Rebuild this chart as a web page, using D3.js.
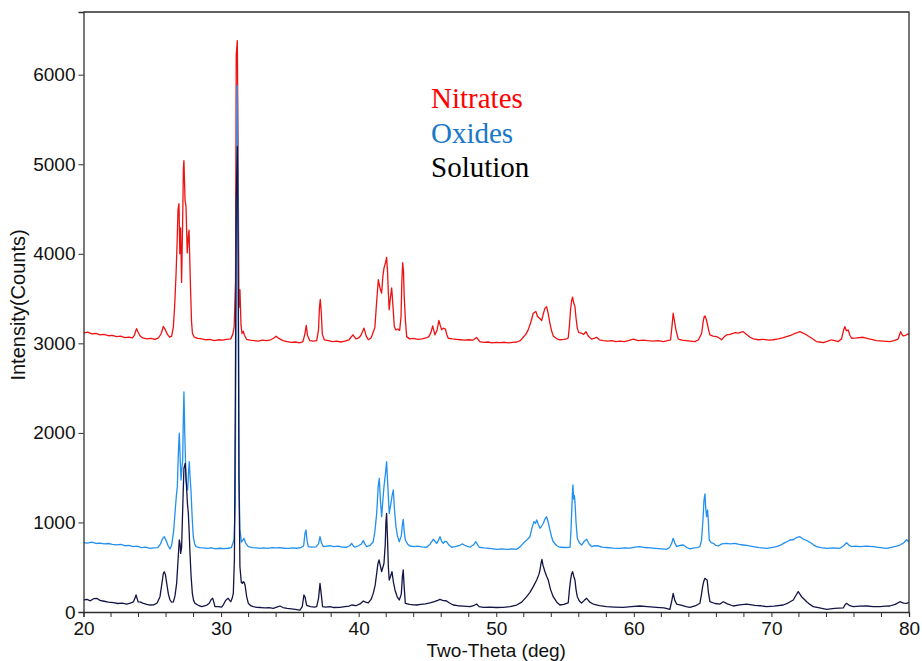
<!DOCTYPE html>
<html>
<head>
<meta charset="utf-8">
<script src="https://cdn.jsdelivr.net/npm/d3@7"></script>
<style>
  html, body { margin: 0; padding: 0; background: #fff; }
  svg { display: block; }
</style>
</head>
<body>
<svg id="chart" width="922" height="661"></svg>
<script>
// XRD patterns: [2θ (deg), intensity (counts)]
const nitrates = [[20.0,3115],[20.3,3125],[20.6,3105],[20.9,3110],[21.2,3095],[21.5,3100],[21.8,3085],[22.1,3090],[22.4,3075],[22.7,3080],[23.0,3065],[23.3,3070],[23.55,3060],[23.7,3090],[23.85,3165],[23.95,3130],[24.1,3085],[24.3,3060],[24.6,3050],[24.9,3055],[25.2,3045],[25.45,3060],[25.65,3110],[25.8,3190],[25.95,3150],[26.1,3100],[26.26,3070],[26.41,3080],[26.53,3185],[26.62,3400],[26.72,3745],[26.8,4100],[26.87,4490],[26.94,4560],[27.0,4000],[27.06,4290],[27.13,3680],[27.2,4300],[27.26,4950],[27.3,5040],[27.38,4600],[27.45,4530],[27.54,4010],[27.62,4200],[27.67,4265],[27.73,3900],[27.79,3560],[27.85,3250],[27.92,3110],[28.05,3070],[28.3,3055],[28.6,3050],[28.9,3040],[29.2,3045],[29.5,3030],[29.8,3040],[30.1,3035],[30.4,3045],[30.7,3050],[30.85,3100],[30.95,3180],[31.05,3700],[31.1,6220],[31.18,6380],[31.24,5000],[31.3,3400],[31.37,3600],[31.45,3200],[31.52,3110],[31.61,3135],[31.7,3090],[31.85,3045],[32.1,3035],[32.4,3030],[32.7,3025],[33.0,3035],[33.3,3030],[33.6,3040],[33.85,3060],[34.0,3080],[34.2,3055],[34.5,3030],[34.8,3020],[35.1,3010],[35.4,3015],[35.7,3005],[35.95,3020],[36.1,3110],[36.19,3200],[36.28,3090],[36.45,3030],[36.7,3025],[36.95,3030],[37.08,3150],[37.15,3400],[37.21,3490],[37.28,3350],[37.36,3100],[37.5,3040],[37.8,3030],[38.1,3020],[38.4,3025],[38.7,3015],[39.0,3025],[39.3,3040],[39.58,3095],[39.8,3050],[40.0,3060],[40.17,3090],[40.39,3170],[40.55,3080],[40.7,3040],[40.9,3060],[41.05,3120],[41.18,3180],[41.3,3450],[41.43,3710],[41.55,3620],[41.67,3560],[41.76,3750],[41.84,3840],[41.95,3900],[42.03,3960],[42.1,3800],[42.16,3550],[42.22,3375],[42.3,3500],[42.4,3620],[42.5,3400],[42.59,3187],[42.7,3150],[42.85,3160],[42.98,3145],[43.08,3300],[43.14,3700],[43.2,3900],[43.26,3800],[43.31,3520],[43.4,3250],[43.49,3075],[43.7,3050],[44.0,3055],[44.3,3045],[44.6,3050],[44.9,3060],[45.1,3075],[45.25,3120],[45.38,3195],[45.47,3140],[45.55,3095],[45.7,3150],[45.83,3255],[45.93,3200],[46.03,3150],[46.15,3170],[46.3,3160],[46.4,3100],[46.51,3057],[46.8,3050],[47.1,3045],[47.4,3040],[47.7,3035],[48.0,3040],[48.3,3035],[48.57,3065],[48.8,3020],[49.1,3010],[49.4,3015],[49.7,3005],[50.0,3010],[50.3,3008],[50.6,3012],[50.9,3005],[51.2,3010],[51.5,3015],[51.75,3030],[51.96,3068],[52.15,3100],[52.32,3150],[52.5,3230],[52.69,3336],[52.88,3355],[53.0,3300],[53.15,3280],[53.3,3255],[53.42,3330],[53.54,3390],[53.66,3410],[53.78,3330],[53.9,3225],[54.02,3140],[54.14,3083],[54.4,3050],[54.63,3040],[54.9,3045],[55.1,3050],[55.23,3060],[55.32,3200],[55.4,3375],[55.48,3480],[55.55,3515],[55.63,3450],[55.72,3410],[55.8,3280],[55.89,3170],[56.0,3120],[56.2,3113],[56.35,3100],[56.52,3130],[56.7,3080],[56.93,3047],[57.1,3055],[57.3,3068],[57.5,3040],[57.78,3030],[58.1,3025],[58.4,3030],[58.7,3020],[59.0,3025],[59.3,3020],[59.6,3030],[59.96,3047],[60.32,3030],[60.7,3035],[61.0,3030],[61.4,3025],[61.8,3030],[62.14,3020],[62.45,3030],[62.67,3040],[62.78,3200],[62.86,3336],[62.95,3250],[63.06,3150],[63.23,3047],[63.5,3035],[63.8,3030],[64.1,3025],[64.44,3020],[64.7,3040],[64.93,3113],[65.05,3250],[65.12,3300],[65.17,3306],[65.26,3270],[65.36,3205],[65.45,3140],[65.53,3094],[65.75,3080],[66.02,3075],[66.2,3060],[66.38,3040],[66.55,3070],[66.74,3094],[67.0,3100],[67.2,3110],[67.35,3120],[67.6,3115],[67.8,3125],[67.95,3130],[68.2,3100],[68.44,3068],[68.7,3050],[69.04,3040],[69.4,3045],[69.8,3035],[70.13,3040],[70.5,3050],[70.8,3060],[71.1,3075],[71.4,3090],[71.7,3110],[71.9,3120],[72.07,3130],[72.3,3115],[72.56,3094],[72.9,3060],[73.28,3020],[73.5,3015],[73.77,3008],[74.1,3025],[74.37,3040],[74.6,3030],[74.85,3020],[75.1,3050],[75.25,3150],[75.34,3187],[75.45,3140],[75.58,3150],[75.7,3090],[75.83,3057],[76.2,3060],[76.67,3068],[77.1,3050],[77.64,3030],[78.1,3025],[78.61,3020],[78.9,3030],[79.21,3047],[79.3,3090],[79.39,3130],[79.5,3095],[79.58,3083],[79.75,3090],[79.94,3105],[80.0,3095]];

const oxides = [[20.0,775],[20.3,770],[20.6,780],[20.9,765],[21.2,770],[21.5,760],[21.8,765],[22.1,755],[22.4,750],[22.7,755],[23.0,740],[23.3,745],[23.62,730],[23.9,735],[24.2,720],[24.5,725],[24.83,711],[25.1,715],[25.4,720],[25.6,760],[25.75,820],[25.87,840],[26.0,800],[26.15,740],[26.29,704],[26.41,748],[26.55,900],[26.65,1102],[26.75,1300],[26.82,1400],[26.9,1800],[26.96,1996],[27.03,1700],[27.09,1474],[27.15,1600],[27.21,1698],[27.26,2200],[27.3,2457],[27.36,2000],[27.45,1474],[27.52,1400],[27.57,1363],[27.63,1550],[27.69,1680],[27.75,1500],[27.81,1363],[27.9,1050],[27.98,841],[28.08,760],[28.18,730],[28.4,720],[28.7,715],[29.0,710],[29.3,715],[29.6,705],[29.9,712],[30.2,708],[30.5,712],[30.75,720],[30.94,804],[31.03,1200],[31.1,4000],[31.18,5880],[31.24,4500],[31.3,1500],[31.37,920],[31.48,780],[31.58,800],[31.66,823],[31.78,770],[31.98,730],[32.3,720],[32.6,715],[32.83,711],[33.1,715],[33.4,710],[33.7,720],[34.0,715],[34.3,720],[34.6,712],[34.9,710],[35.2,715],[35.5,712],[35.8,718],[36.0,740],[36.1,880],[36.17,916],[36.25,800],[36.34,730],[36.6,725],[36.9,728],[37.08,760],[37.19,841],[37.3,770],[37.43,730],[37.65,735],[37.91,740],[38.2,730],[38.5,735],[38.8,725],[39.13,723],[39.35,740],[39.49,767],[39.62,735],[39.73,723],[40.0,740],[40.2,760],[40.34,797],[40.45,760],[40.58,730],[40.8,740],[41.06,785],[41.18,900],[41.31,1102],[41.42,1400],[41.5,1493],[41.58,1250],[41.67,1064],[41.76,1250],[41.84,1400],[41.95,1550],[42.03,1679],[42.12,1400],[42.22,1102],[42.33,1200],[42.43,1300],[42.52,1363],[42.6,1150],[42.71,953],[42.82,850],[42.95,785],[43.1,850],[43.18,980],[43.24,1035],[43.31,900],[43.39,804],[43.55,760],[43.73,737],[44.0,730],[44.3,735],[44.6,728],[44.94,723],[45.2,760],[45.42,812],[45.55,790],[45.67,767],[45.8,800],[45.91,841],[46.03,790],[46.15,767],[46.28,790],[46.39,785],[46.55,750],[46.76,723],[47.0,730],[47.3,740],[47.52,760],[47.72,745],[48.09,723],[48.35,750],[48.52,785],[48.65,750],[48.77,723],[49.1,715],[49.5,710],[49.8,705],[50.03,700],[50.4,705],[50.8,700],[51.2,705],[51.48,700],[51.75,730],[51.96,767],[52.2,800],[52.45,841],[52.6,940],[52.74,1009],[52.85,990],[52.94,1028],[53.05,980],[53.18,935],[53.3,960],[53.42,991],[53.55,1040],[53.66,1064],[53.78,1000],[53.9,916],[54.02,840],[54.14,785],[54.4,740],[54.63,723],[55.0,720],[55.36,723],[55.43,900],[55.48,1102],[55.53,1300],[55.57,1419],[55.63,1260],[55.68,1300],[55.72,1232],[55.8,1000],[55.89,823],[56.05,770],[56.2,748],[56.4,790],[56.57,812],[56.75,760],[56.93,730],[57.15,740],[57.41,737],[57.7,725],[58.0,720],[58.5,714],[58.99,711],[59.3,715],[59.72,714],[60.1,725],[60.44,730],[60.8,720],[61.2,715],[61.6,710],[62.0,705],[62.38,700],[62.6,720],[62.75,767],[62.86,823],[62.98,770],[63.11,730],[63.35,745],[63.59,748],[63.85,720],[64.08,704],[64.4,715],[64.65,720],[64.8,730],[64.92,800],[65.04,1064],[65.1,1250],[65.17,1318],[65.23,1150],[65.29,1064],[65.36,1139],[65.42,1000],[65.48,804],[65.62,775],[65.77,767],[65.95,745],[66.13,737],[66.4,760],[66.74,767],[67.0,760],[67.35,767],[67.65,755],[67.95,748],[68.3,740],[68.68,730],[69.1,720],[69.65,711],[70.0,720],[70.38,730],[70.7,750],[70.98,774],[71.2,790],[71.35,804],[71.59,807],[71.8,830],[72.07,841],[72.25,820],[72.44,807],[72.6,795],[72.8,778],[73.05,750],[73.28,730],[73.6,720],[74.01,711],[74.5,715],[74.98,711],[75.25,740],[75.46,774],[75.65,745],[75.83,730],[76.1,735],[76.43,730],[76.9,735],[77.4,730],[77.9,720],[78.37,711],[78.8,725],[79.1,735],[79.34,748],[79.6,770],[79.83,807],[79.95,790],[80.0,790]];

const solution = [[20.0,134],[20.25,140],[20.5,125],[20.75,150],[20.96,153],[21.2,130],[21.5,120],[21.8,110],[22.17,104],[22.5,95],[22.8,100],[23.14,89],[23.4,100],[23.62,112],[23.75,160],[23.82,190],[23.9,150],[23.98,112],[24.15,110],[24.35,97],[24.6,85],[24.83,78],[25.1,80],[25.35,100],[25.56,171],[25.7,320],[25.8,430],[25.87,450],[25.95,420],[26.05,320],[26.17,200],[26.29,134],[26.4,110],[26.53,112],[26.65,180],[26.77,320],[26.88,600],[26.96,804],[27.02,760],[27.06,655],[27.13,720],[27.22,1200],[27.3,1605],[27.36,1640],[27.4,1661],[27.45,1500],[27.5,1363],[27.56,1200],[27.62,1102],[27.68,900],[27.74,655],[27.82,400],[27.91,208],[28.0,130],[28.1,97],[28.35,75],[28.59,59],[28.85,70],[29.0,80],[29.14,97],[29.28,140],[29.39,153],[29.47,110],[29.56,59],[29.8,60],[30.04,55],[30.16,80],[30.28,115],[30.4,140],[30.52,153],[30.62,130],[30.7,115],[30.8,150],[30.89,208],[30.97,600],[31.04,2500],[31.1,4600],[31.18,5200],[31.24,4000],[31.3,1500],[31.37,506],[31.47,330],[31.55,320],[31.61,339],[31.68,330],[31.74,302],[31.86,171],[31.98,97],[32.15,70],[32.34,59],[32.59,52],[32.9,50],[33.2,45],[33.5,48],[33.79,41],[34.05,55],[34.28,67],[34.5,50],[34.8,40],[35.1,35],[35.4,30],[35.73,22],[35.9,60],[36.02,190],[36.1,170],[36.22,74],[36.5,60],[36.8,55],[36.95,59],[37.08,150],[37.19,320],[37.28,200],[37.38,59],[37.6,55],[37.91,59],[38.2,50],[38.64,52],[39.0,60],[39.3,65],[39.49,78],[39.8,70],[40.1,90],[40.34,123],[40.5,110],[40.7,101],[40.9,140],[41.06,208],[41.2,300],[41.31,432],[41.4,540],[41.48,581],[41.57,520],[41.67,450],[41.76,500],[41.84,544],[41.93,750],[41.98,1000],[42.03,1102],[42.1,800],[42.16,500],[42.22,357],[42.32,400],[42.42,450],[42.53,330],[42.64,246],[42.8,170],[42.95,134],[43.1,200],[43.18,400],[43.24,469],[43.3,300],[43.39,97],[43.7,85],[44.0,80],[44.21,78],[44.5,85],[44.85,90],[45.18,101],[45.5,115],[45.75,130],[45.91,141],[46.1,130],[46.39,123],[46.6,100],[46.88,78],[47.2,70],[47.6,65],[48.09,59],[48.35,70],[48.57,89],[48.75,60],[49.06,52],[49.5,55],[50.0,50],[50.51,52],[51.0,60],[51.48,78],[51.85,110],[52.21,171],[52.45,220],[52.69,283],[52.94,357],[53.1,420],[53.18,469],[53.25,540],[53.32,588],[53.4,520],[53.54,450],[53.66,400],[53.78,357],[53.95,250],[54.14,171],[54.4,110],[54.63,78],[54.9,85],[55.23,101],[55.32,250],[55.4,357],[55.47,420],[55.55,450],[55.63,400],[55.72,357],[55.8,250],[55.89,171],[56.05,120],[56.2,101],[56.4,130],[56.57,153],[56.8,110],[57.05,89],[57.5,70],[58.02,59],[58.6,55],[59.23,52],[59.8,60],[60.44,67],[61.0,60],[61.65,52],[62.2,45],[62.62,30],[62.75,120],[62.86,208],[62.98,130],[63.11,89],[63.5,75],[63.8,60],[64.08,52],[64.5,70],[64.8,97],[64.92,200],[65.0,283],[65.08,340],[65.17,376],[65.25,365],[65.33,357],[65.42,220],[65.53,115],[65.9,95],[66.26,89],[66.5,115],[66.8,90],[67.23,67],[67.7,80],[68.2,89],[68.8,75],[69.2,70],[69.65,59],[70.2,65],[70.86,78],[71.2,100],[71.59,134],[71.8,190],[71.95,227],[72.07,200],[72.19,171],[72.4,140],[72.56,115],[72.8,85],[73.04,59],[73.5,45],[74.01,30],[74.6,40],[75.22,45],[75.35,80],[75.46,97],[75.7,70],[75.95,59],[76.4,65],[76.92,67],[77.4,60],[77.89,59],[78.3,65],[78.61,67],[79.0,85],[79.34,115],[79.6,100],[79.83,97],[80.0,108]];

const seriesNames = ["Nitrates", "Oxides", "Solution"];
const lineColors = ["#ee1111", "#2190ee", "#141446"];
const legendColors = ["#ff0000", "#1a78c8", "#000000"];
const xTickValues = [20, 30, 40, 50, 60, 70, 80];
const xMinorTicks = [22, 24, 26, 28, 32, 34, 36, 38, 42, 44, 46, 48, 52, 54, 56, 58, 62, 64, 66, 68, 72, 74, 76, 78];
const yTickValues = [0, 1000, 2000, 3000, 4000, 5000, 6000];

const svg = d3.select("#chart");
const plotBox = { left: 83.5, right: 909, top: 12, bottom: 612 };

const x = d3.scaleLinear().domain([20, 80]).range([plotBox.left, plotBox.right]);
const y = d3.scaleLinear().domain([0, 6700]).range([plotBox.bottom, plotBox.top]);

const frameColor = "#2e2e2e";
const tickFont = "'Liberation Sans', Arial, sans-serif";

// plot lines, clipped to the plot box
svg.append("defs").append("clipPath").attr("id", "plotClip")
  .append("rect")
  .attr("x", plotBox.left).attr("y", plotBox.top)
  .attr("width", plotBox.right - plotBox.left).attr("height", plotBox.bottom - plotBox.top);

const line = d3.line().x(d => x(d[0])).y(d => y(d[1]));
const plot = svg.append("g").attr("clip-path", "url(#plotClip)");
[nitrates, oxides, solution].forEach((s, i) => {
  plot.append("path")
    .datum(s)
    .attr("d", line)
    .attr("fill", "none")
    .attr("stroke", lineColors[i])
    .attr("stroke-width", 1.3)
    .attr("stroke-linejoin", "round");
});

// frame: top and right edges
svg.append("path")
  .attr("d", `M${plotBox.left},${plotBox.top}H${plotBox.right}V${plotBox.bottom}`)
  .attr("fill", "none").attr("stroke", frameColor).attr("stroke-width", 1.3);

// bottom axis
const xAxis = svg.append("g").attr("transform", `translate(0,${plotBox.bottom})`)
  .call(d3.axisBottom(x).tickValues(xTickValues).tickFormat(d3.format("d")).tickSize(5).tickPadding(5));
xAxis.append("g").selectAll("line").data(xMinorTicks).join("line")
  .attr("x1", d => x(d)).attr("x2", d => x(d)).attr("y1", 0).attr("y2", 5)
  .attr("stroke", frameColor);

// left axis
const yAxis = svg.append("g").attr("transform", `translate(${plotBox.left},0)`)
  .call(d3.axisLeft(y).tickValues(yTickValues).tickFormat(d3.format("d")).tickSize(5).tickPadding(3));

[xAxis, yAxis].forEach(g => {
  g.select(".domain").attr("stroke", frameColor).attr("stroke-width", 1.3);
  g.selectAll(".tick line").attr("stroke", frameColor);
  g.selectAll("text").attr("font-family", tickFont).attr("font-size", 19).attr("fill", "#111");
});

// axis titles
svg.append("text")
  .attr("x", (plotBox.left + plotBox.right) / 2).attr("y", 657)
  .attr("text-anchor", "middle")
  .attr("font-family", tickFont).attr("font-size", 19).attr("fill", "#111")
  .text("Two-Theta (deg)");

svg.append("text")
  .attr("transform", "translate(25,305) rotate(-90)")
  .attr("text-anchor", "middle")
  .attr("font-family", tickFont).attr("font-size", 20).attr("fill", "#111")
  .text("Intensity(Counts)");

// legend
const legend = svg.append("g").attr("transform", "translate(431,108)");
seriesNames.forEach((name, i) => {
  legend.append("text")
    .attr("x", 0).attr("y", i * 34.5)
    .attr("font-family", "'Liberation Serif', 'Times New Roman', serif")
    .attr("font-size", 29)
    .attr("fill", legendColors[i])
    .text(name);
});
</script>
</body>
</html>
